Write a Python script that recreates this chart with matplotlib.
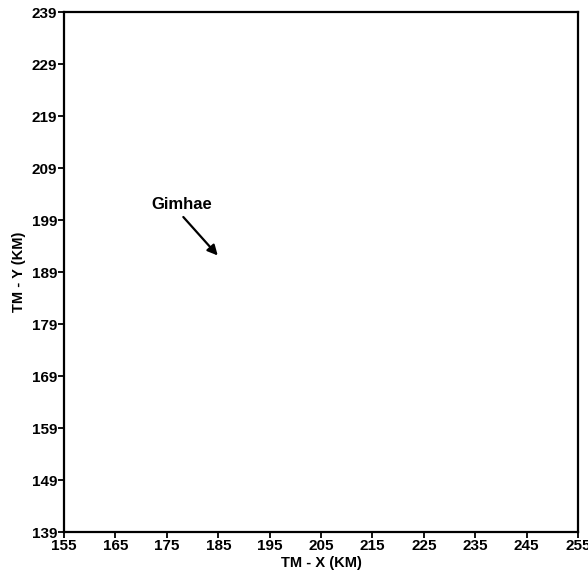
import numpy as np
import matplotlib.pyplot as plt

plt.rcParams['font.family'] = ['Liberation Sans', 'DejaVu Sans']

# --- Axis data ---
x_ticks = [155, 165, 175, 185, 195, 205, 215, 225, 235, 245, 255]
y_ticks = [139, 149, 159, 169, 179, 189, 199, 209, 219, 229, 239]

# --- Annotation ---
label = "Gimhae"
label_xy = (177.8, 202.0)   # text centre (km)
arrow_tail = (178.2, 199.6) # arrow start (km)
arrow_tip = (184.9, 192.2)  # arrow head (km)

fig = plt.figure(figsize=(5.88, 5.79), dpi=100)
ax = fig.add_axes([0.109, 0.081, 0.874, 0.898])

ax.set_xlim(x_ticks[0], x_ticks[-1])
ax.set_ylim(y_ticks[0], y_ticks[-1])
ax.set_xticks(x_ticks)
ax.set_yticks(y_ticks)
ax.tick_params(direction='out', length=4, width=1.3, labelsize=11, pad=1)
for lab in ax.get_xticklabels() + ax.get_yticklabels():
    lab.set_fontweight('bold')
for sp in ax.spines.values():
    sp.set_linewidth(1.6)

ax.set_xlabel("TM - X (KM)", fontsize=10.5, fontweight='bold', labelpad=2)
ax.set_ylabel("TM - Y (KM)", fontsize=10.5, fontweight='bold', labelpad=4)

ax.text(*label_xy, label, ha='center', va='center', fontsize=12, fontweight='bold')
ax.annotate('', xy=arrow_tip, xytext=arrow_tail,
            arrowprops=dict(arrowstyle='-|>', color='black', lw=1.6,
                            mutation_scale=15, shrinkA=0, shrinkB=0))

fig.savefig("out.png", dpi=100)
